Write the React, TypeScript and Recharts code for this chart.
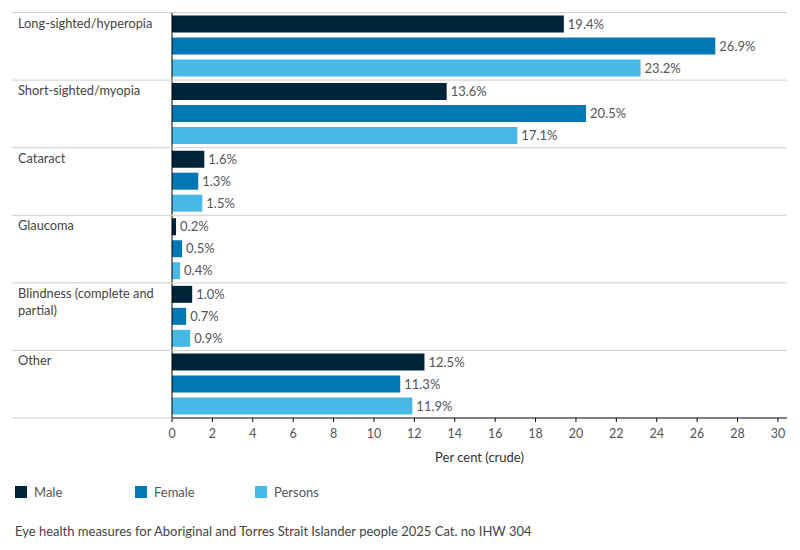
import { BarChart, Bar, XAxis, YAxis, LabelList } from "recharts";

const categories = [
    "Long-sighted/hyperopia",
    "Short-sighted/myopia",
    "Cataract",
    "Glaucoma",
    "Blindness (complete and partial)",
    "Other",
];
const male = [19.4, 13.6, 1.6, 0.2, 1.0, 12.5];
const female = [26.9, 20.5, 1.3, 0.5, 0.7, 11.3];
const persons = [23.2, 17.1, 1.5, 0.4, 0.9, 11.9];
const xTicks = [0, 2, 4, 6, 8, 10, 12, 14, 16, 18, 20, 22, 24, 26, 28, 30];

const series = [
    { key: "male", name: "Male", color: "#00253a" },
    { key: "female", name: "Female", color: "#0078b5" },
    { key: "persons", name: "Persons", color: "#48b8e7" },
];

const data = categories.map((name, i) => ({
    name,
    male: male[i],
    female: female[i],
    persons: persons[i],
}));

const FONT = "Lato, 'Noto Sans', sans-serif";
const BAND = 67.5;
const LINE_LEFT = 12;
const LINE_RIGHT = 787;

// split long category names onto two lines
function wrap(text: string, max = 24) {
    const words = text.split(" ");
    const lines: string[] = [];
    let cur = "";
    for (const w of words) {
        if (cur && (cur + " " + w).length > max) {
            lines.push(cur);
            cur = w;
        } else {
            cur = cur ? cur + " " + w : w;
        }
    }
    if (cur) lines.push(cur);
    return lines;
}

function CategoryTick(props: any) {
    const { y, payload, index } = props;
    const top = y - BAND / 2;
    const lines = wrap(payload.value);
    const isLast = index === categories.length - 1;
    return (
        <g>
            <line x1={LINE_LEFT} x2={LINE_RIGHT} y1={top} y2={top} stroke="#cfcfcf" />
            {isLast && (
                <line x1={LINE_LEFT} x2={172} y1={top + BAND} y2={top + BAND} stroke="#cfcfcf" />
            )}
            <text x={18} y={top + 15} fill="#444" fontSize={12.8} fontFamily={FONT}>
                {lines.map((l, i) => (
                    <tspan key={i} x={18} dy={i === 0 ? 0 : 17}>
                        {l}
                    </tspan>
                ))}
            </text>
        </g>
    );
}

export default function App() {
    return (
        <div style={{ position: "absolute", left: 0, top: 0, width: 800, height: 550, fontFamily: FONT }}>
            <BarChart
                width={800}
                height={468}
                data={data}
                layout="vertical"
                margin={{ top: 12.5, right: 13, left: 0, bottom: 0 }}
                barCategoryGap={3}
                barGap={5}
            >
                <XAxis
                    type="number"
                    domain={[0, 30.45]}
                    ticks={xTicks}
                    allowDataOverflow
                    height={50}
                    axisLine={{ stroke: "#000" }}
                    tickLine={{ stroke: "#000" }}
                    tickSize={4}
                    tickMargin={7}
                    tick={{ fill: "#555", fontSize: 12.5, fontFamily: FONT }}
                    label={{
                        value: "Per cent (crude)",
                        position: "insideBottom",
                        offset: 6,
                        fill: "#333",
                        fontSize: 13,
                        fontFamily: FONT,
                    }}
                />
                <YAxis
                    type="category"
                    dataKey="name"
                    width={172}
                    axisLine={{ stroke: "#000" }}
                    tickLine={false}
                    tick={<CategoryTick />}
                    interval={0}
                />
                {series.map((s) => (
                    <Bar key={s.key} dataKey={s.key} name={s.name} fill={s.color} isAnimationActive={false}>
                        <LabelList
                            dataKey={s.key}
                            position="right"
                            offset={4}
                            formatter={(v: any) => `${Number(v).toFixed(1)}%`}
                            fill="#555"
                            fontSize={13}
                            fontFamily={FONT}
                        />
                    </Bar>
                ))}
            </BarChart>
            <div style={{ position: "absolute", top: 484, left: 15, display: "flex" }}>
                {series.map((s) => (
                    <div key={s.key} style={{ width: 120, display: "flex", alignItems: "center" }}>
                        <span style={{ width: 12, height: 12, background: s.color, display: "inline-block" }} />
                        <span style={{ marginLeft: 7, fontSize: 13, color: "#555" }}>{s.name}</span>
                    </div>
                ))}
            </div>
            <div style={{ position: "absolute", top: 523, left: 15, fontSize: 13, color: "#444" }}>
                Eye health measures for Aboriginal and Torres Strait Islander people 2025 Cat. no IHW 304
            </div>
        </div>
    );
}
